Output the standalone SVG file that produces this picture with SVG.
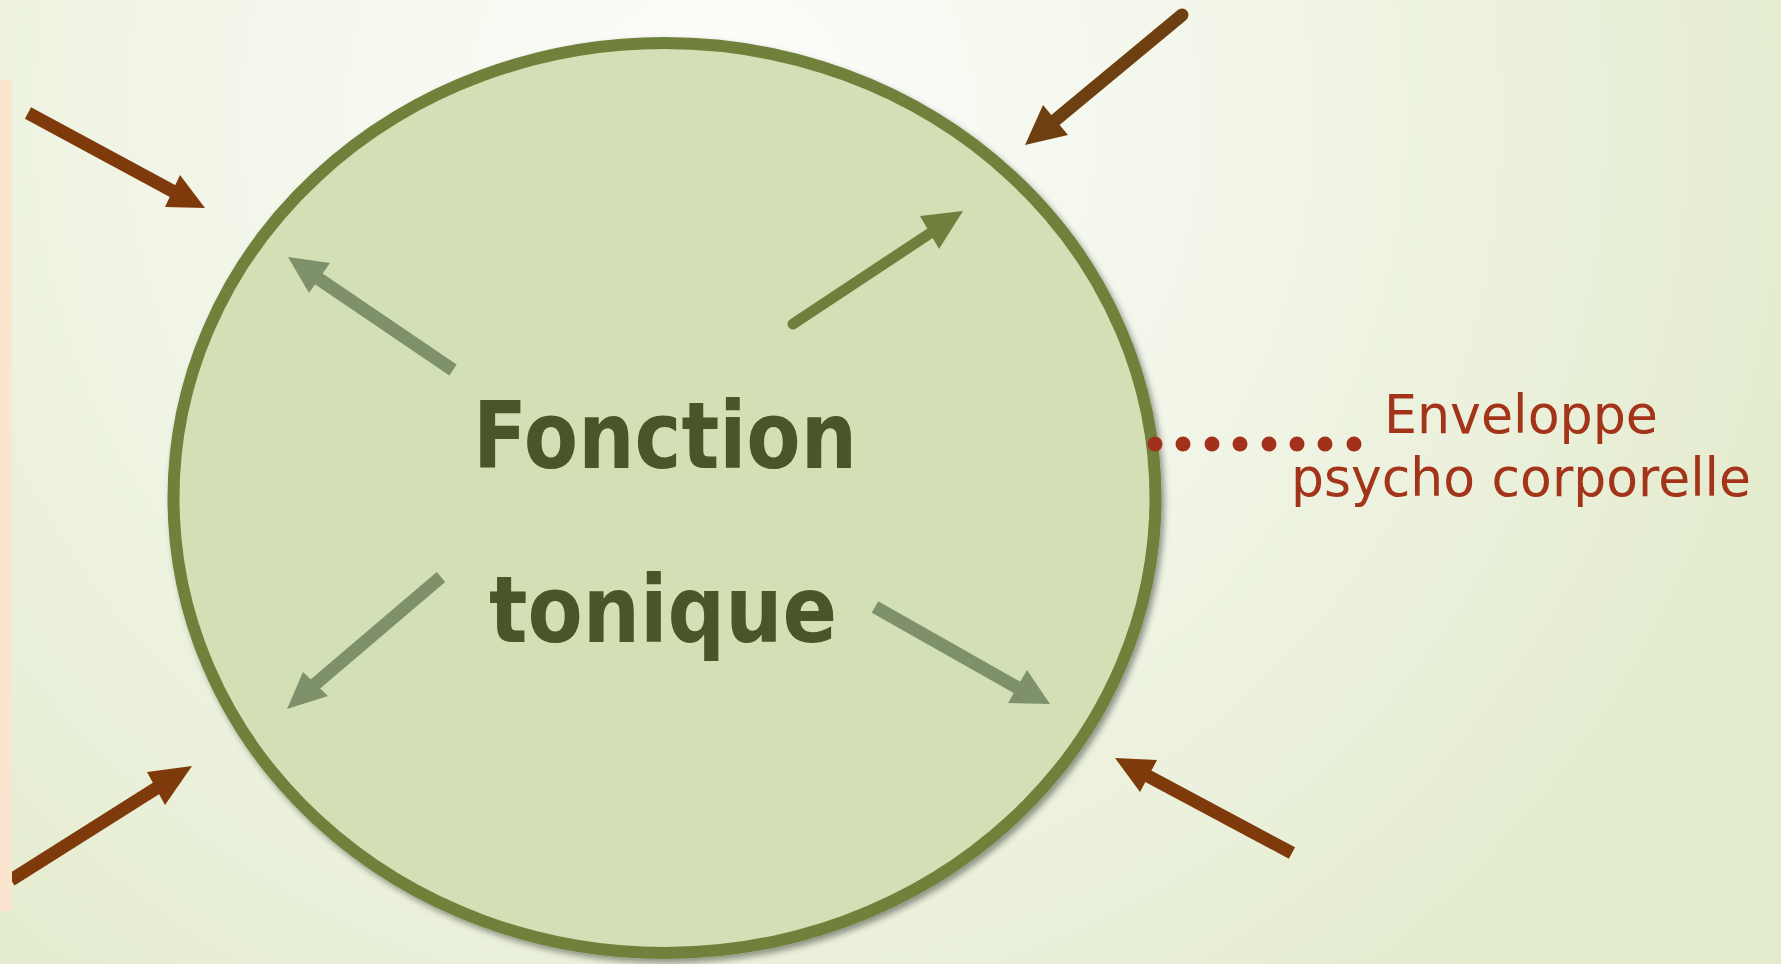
<svg xmlns="http://www.w3.org/2000/svg" width="1781" height="964" viewBox="0 0 1781 964">
  <style>
    .brown { fill: #7f3a0c; }
    .brown-line { stroke: #7f3a0c; stroke-width: 13; fill: none; }
    .dark { fill: #6e803c; }
    .dark-line { stroke: #6e803c; stroke-width: 11; fill: none; stroke-linecap: round; }
    .pale { fill: #7f916a; }
    .pale-line { stroke: #7f916a; stroke-width: 13; fill: none; }
    .title { font-family: "DejaVu Sans", "Liberation Sans", sans-serif; font-weight: bold; font-size: 93px; fill: #4a5628; }
    .label { font-family: "DejaVu Sans", "Liberation Sans", sans-serif; font-size: 54px; fill: #a3341a; }
    .dot { fill: #a3301a; }
  </style>
  <defs>
    <radialGradient id="bg" cx="720" cy="120" r="1150" gradientUnits="userSpaceOnUse">
      <stop offset="0" stop-color="#fdfdfb"/>
      <stop offset="0.45" stop-color="#f2f6e9"/>
      <stop offset="1" stop-color="#e3ebcd"/>
    </radialGradient>
    <filter id="shadow" x="-10%" y="-10%" width="120%" height="120%">
      <feGaussianBlur in="SourceAlpha" stdDeviation="3"/>
      <feOffset dx="3" dy="4" result="b"/>
      <feFlood flood-color="#000" flood-opacity="0.4"/>
      <feComposite in2="b" operator="in"/>
      <feMerge><feMergeNode/><feMergeNode in="SourceGraphic"/></feMerge>
    </filter>
  </defs>

  <rect width="1781" height="964" fill="url(#bg)"/>

  <!-- circle node -->
  <g id="fonction-tonique">
    <ellipse cx="664.5" cy="498" rx="491" ry="455" fill="#d3dfb5" stroke="#6f813b" stroke-width="12" filter="url(#shadow)"/>
    <text class="title" x="473" y="468" textLength="384" lengthAdjust="spacingAndGlyphs">Fonction</text>
    <text class="title" x="489" y="642" textLength="348" lengthAdjust="spacingAndGlyphs">tonique</text>
  </g>

  <!-- envelope label -->
  <g id="enveloppe">
    <text class="label" x="1384" y="433" textLength="274" lengthAdjust="spacingAndGlyphs">Enveloppe</text>
    <text class="label" x="1291" y="496" textLength="460" lengthAdjust="spacingAndGlyphs">psycho corporelle</text>
  </g>

  <!-- connectors -->
  <g id="connectors">
    <!-- dotted leader -->
    <g id="leader">
      <circle class="dot" cx="1155" cy="444" r="7.5"/>
      <circle class="dot" cx="1183" cy="444" r="7.5"/>
      <circle class="dot" cx="1212" cy="444" r="7.5"/>
      <circle class="dot" cx="1240" cy="444" r="7.5"/>
      <circle class="dot" cx="1269" cy="444" r="7.5"/>
      <circle class="dot" cx="1297" cy="444" r="7.5"/>
      <circle class="dot" cx="1325" cy="444" r="7.5"/>
      <circle class="dot" cx="1354" cy="444" r="7.5"/>
    </g>

    <!-- outer arrows pointing inward -->
    <line class="brown-line" x1="28" y1="113" x2="178" y2="194"/>
    <polygon class="brown" points="205,208 165,207 180,175"/>

    <line class="brown-line" x1="1182" y1="15" x2="1053" y2="122" style="stroke:#6e3f10;stroke-linecap:round"/>
    <polygon class="brown" points="1025,145 1043,105 1068,135" style="fill:#6e3f10"/>

    <line class="brown-line" x1="11" y1="880" x2="163" y2="784"/>
    <polygon class="brown" points="192,766 147,772 165,805"/>

    <line class="brown-line" x1="1292" y1="853" x2="1146" y2="775"/>
    <polygon class="brown" points="1115,758 1157,760 1140,792"/>

    <!-- inner arrows pointing outward -->
    <line class="dark-line" x1="793" y1="324" x2="935" y2="230"/>
    <polygon class="dark" points="963,211 920,216 939,249"/>

    <line class="pale-line" x1="453" y1="370" x2="316" y2="277"/>
    <polygon class="pale" points="288,257 330,263 309,293"/>

    <line class="pale-line" x1="441" y1="577" x2="313" y2="686"/>
    <polygon class="pale" points="287,709 303,672 328,696"/>

    <line class="pale-line" x1="875" y1="607" x2="1020" y2="689"/>
    <polygon class="pale" points="1050,704 1008,703 1027,670"/>
  </g>

  <!-- side band -->
  <rect x="0" y="80" width="12" height="831" fill="#fbe5cf"/>
</svg>
